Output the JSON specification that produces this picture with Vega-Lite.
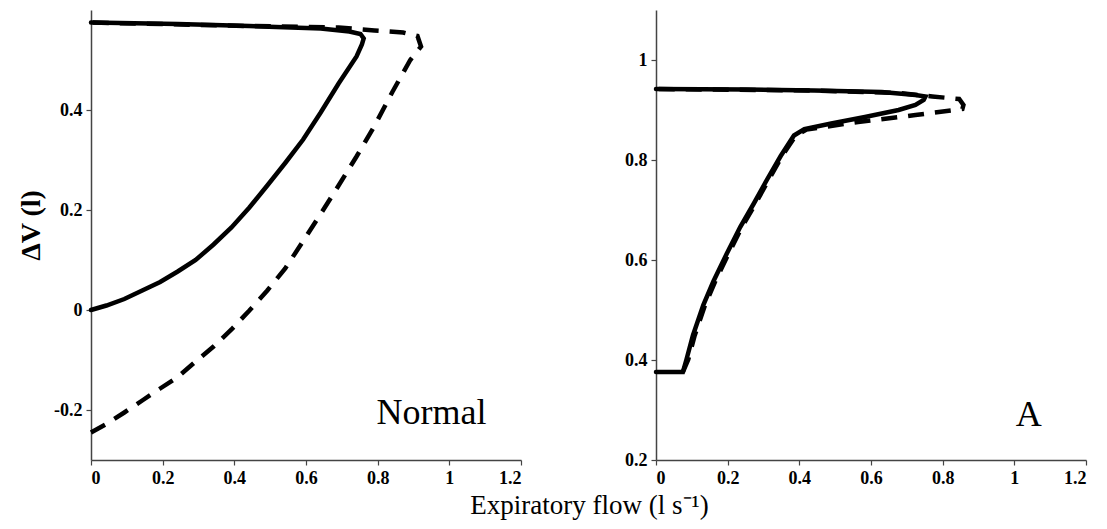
{
  "$schema": "https://vega.github.io/schema/vega-lite/v6.json",
  "padding": {"left": 17, "top": 10, "right": 5, "bottom": 5},
  "background": "white",
  "bounds": "flush",
  "spacing": 135,
  "config": {
    "view": {"stroke": null},
    "font": "Liberation Serif",
    "axis": {
      "grid": false,
      "domainColor": "#444",
      "domainWidth": 1.5,
      "tickColor": "#444",
      "tickSize": 5,
      "tickWidth": 1.2,
      "labelFont": "Liberation Serif",
      "labelFontSize": 18,
      "labelFontWeight": "bold",
      "labelColor": "black",
      "labelPadding": 4,
      "titleFont": "Liberation Serif",
      "titleColor": "black",
      "format": "~g",
      "labelExpr": "replace(datum.label, '\u2212', '-')"
    }
  },
  "datasets": {
    "normal": [
      {"series": "solid", "i": 0, "flow": 0, "dv": 0},
      {"series": "solid", "i": 1, "flow": 0.043, "dv": 0.009},
      {"series": "solid", "i": 2, "flow": 0.093, "dv": 0.022},
      {"series": "solid", "i": 3, "flow": 0.143, "dv": 0.039},
      {"series": "solid", "i": 4, "flow": 0.193, "dv": 0.056},
      {"series": "solid", "i": 5, "flow": 0.242, "dv": 0.077},
      {"series": "solid", "i": 6, "flow": 0.292, "dv": 0.1},
      {"series": "solid", "i": 7, "flow": 0.342, "dv": 0.131},
      {"series": "solid", "i": 8, "flow": 0.392, "dv": 0.165},
      {"series": "solid", "i": 9, "flow": 0.442, "dv": 0.205},
      {"series": "solid", "i": 10, "flow": 0.492, "dv": 0.249},
      {"series": "solid", "i": 11, "flow": 0.542, "dv": 0.294},
      {"series": "solid", "i": 12, "flow": 0.592, "dv": 0.341},
      {"series": "solid", "i": 13, "flow": 0.641, "dv": 0.395},
      {"series": "solid", "i": 14, "flow": 0.691, "dv": 0.453},
      {"series": "solid", "i": 15, "flow": 0.741, "dv": 0.507},
      {"series": "solid", "i": 16, "flow": 0.756, "dv": 0.531},
      {"series": "solid", "i": 17, "flow": 0.761, "dv": 0.543},
      {"series": "solid", "i": 18, "flow": 0.752, "dv": 0.552},
      {"series": "solid", "i": 19, "flow": 0.721, "dv": 0.557},
      {"series": "solid", "i": 20, "flow": 0.641, "dv": 0.563},
      {"series": "solid", "i": 21, "flow": 0.442, "dv": 0.568},
      {"series": "solid", "i": 22, "flow": 0.242, "dv": 0.572},
      {"series": "solid", "i": 23, "flow": 0, "dv": 0.575},
      {"series": "dashed", "i": 0, "flow": 0, "dv": -0.245},
      {"series": "dashed", "i": 1, "flow": 0.043, "dv": -0.228},
      {"series": "dashed", "i": 2, "flow": 0.093, "dv": -0.205},
      {"series": "dashed", "i": 3, "flow": 0.143, "dv": -0.181},
      {"series": "dashed", "i": 4, "flow": 0.193, "dv": -0.157},
      {"series": "dashed", "i": 5, "flow": 0.242, "dv": -0.134},
      {"series": "dashed", "i": 6, "flow": 0.292, "dv": -0.103},
      {"series": "dashed", "i": 7, "flow": 0.342, "dv": -0.073},
      {"series": "dashed", "i": 8, "flow": 0.392, "dv": -0.039},
      {"series": "dashed", "i": 9, "flow": 0.442, "dv": -0.001},
      {"series": "dashed", "i": 10, "flow": 0.492, "dv": 0.039},
      {"series": "dashed", "i": 11, "flow": 0.542, "dv": 0.083},
      {"series": "dashed", "i": 12, "flow": 0.592, "dv": 0.138},
      {"series": "dashed", "i": 13, "flow": 0.641, "dv": 0.192},
      {"series": "dashed", "i": 14, "flow": 0.691, "dv": 0.249},
      {"series": "dashed", "i": 15, "flow": 0.741, "dv": 0.307},
      {"series": "dashed", "i": 16, "flow": 0.791, "dv": 0.368},
      {"series": "dashed", "i": 17, "flow": 0.841, "dv": 0.436},
      {"series": "dashed", "i": 18, "flow": 0.891, "dv": 0.5},
      {"series": "dashed", "i": 19, "flow": 0.921, "dv": 0.527},
      {"series": "dashed", "i": 20, "flow": 0.911, "dv": 0.548},
      {"series": "dashed", "i": 21, "flow": 0.871, "dv": 0.555},
      {"series": "dashed", "i": 22, "flow": 0.791, "dv": 0.559},
      {"series": "dashed", "i": 23, "flow": 0.691, "dv": 0.565},
      {"series": "dashed", "i": 24, "flow": 0.442, "dv": 0.568},
      {"series": "dashed", "i": 25, "flow": 0, "dv": 0.575}
    ],
    "a": [
      {"series": "solid", "i": 0, "flow": 0, "dv": 0.376},
      {"series": "solid", "i": 1, "flow": 0.075, "dv": 0.376},
      {"series": "solid", "i": 2, "flow": 0.085, "dv": 0.401},
      {"series": "solid", "i": 3, "flow": 0.103, "dv": 0.449},
      {"series": "solid", "i": 4, "flow": 0.132, "dv": 0.51},
      {"series": "solid", "i": 5, "flow": 0.16, "dv": 0.557},
      {"series": "solid", "i": 6, "flow": 0.197, "dv": 0.612},
      {"series": "solid", "i": 7, "flow": 0.235, "dv": 0.666},
      {"series": "solid", "i": 8, "flow": 0.273, "dv": 0.713},
      {"series": "solid", "i": 9, "flow": 0.31, "dv": 0.761},
      {"series": "solid", "i": 10, "flow": 0.348, "dv": 0.808},
      {"series": "solid", "i": 11, "flow": 0.385, "dv": 0.849},
      {"series": "solid", "i": 12, "flow": 0.414, "dv": 0.862},
      {"series": "solid", "i": 13, "flow": 0.489, "dv": 0.873},
      {"series": "solid", "i": 14, "flow": 0.583, "dv": 0.886},
      {"series": "solid", "i": 15, "flow": 0.677, "dv": 0.9},
      {"series": "solid", "i": 16, "flow": 0.724, "dv": 0.91},
      {"series": "solid", "i": 17, "flow": 0.747, "dv": 0.92},
      {"series": "solid", "i": 18, "flow": 0.752, "dv": 0.927},
      {"series": "solid", "i": 19, "flow": 0.724, "dv": 0.93},
      {"series": "solid", "i": 20, "flow": 0.63, "dv": 0.936},
      {"series": "solid", "i": 21, "flow": 0.442, "dv": 0.939},
      {"series": "solid", "i": 22, "flow": 0.254, "dv": 0.941},
      {"series": "solid", "i": 23, "flow": 0, "dv": 0.942},
      {"series": "dashed", "i": 0, "flow": 0.075, "dv": 0.376},
      {"series": "dashed", "i": 1, "flow": 0.09, "dv": 0.401},
      {"series": "dashed", "i": 2, "flow": 0.108, "dv": 0.449},
      {"series": "dashed", "i": 3, "flow": 0.137, "dv": 0.51},
      {"series": "dashed", "i": 4, "flow": 0.165, "dv": 0.557},
      {"series": "dashed", "i": 5, "flow": 0.202, "dv": 0.612},
      {"series": "dashed", "i": 6, "flow": 0.24, "dv": 0.666},
      {"series": "dashed", "i": 7, "flow": 0.278, "dv": 0.713},
      {"series": "dashed", "i": 8, "flow": 0.315, "dv": 0.761},
      {"series": "dashed", "i": 9, "flow": 0.352, "dv": 0.808},
      {"series": "dashed", "i": 10, "flow": 0.39, "dv": 0.849},
      {"series": "dashed", "i": 11, "flow": 0.42, "dv": 0.861},
      {"series": "dashed", "i": 12, "flow": 0.564, "dv": 0.876},
      {"series": "dashed", "i": 13, "flow": 0.724, "dv": 0.89},
      {"series": "dashed", "i": 14, "flow": 0.855, "dv": 0.902},
      {"series": "dashed", "i": 15, "flow": 0.858, "dv": 0.91},
      {"series": "dashed", "i": 16, "flow": 0.846, "dv": 0.922},
      {"series": "dashed", "i": 17, "flow": 0.771, "dv": 0.927},
      {"series": "dashed", "i": 18, "flow": 0.677, "dv": 0.934},
      {"series": "dashed", "i": 19, "flow": 0.442, "dv": 0.939},
      {"series": "dashed", "i": 20, "flow": 0, "dv": 0.942}
    ]
  },
  "hconcat": [
    {
      "width": 430,
      "height": 450,
      "data": {"name": "normal"},
      "encoding": {
        "x": {
          "field": "flow", "type": "quantitative",
          "scale": {"domain": [0, 1.2], "nice": false},
          "axis": {
            "values": [0, 0.2, 0.4, 0.6, 0.8, 1, 1.2],
            "title": "Expiratory flow (l s⁻¹)",
            "titleFontSize": 27,
            "titleFontWeight": "normal",
            "titleX": 498,
            "titleY": 45,
            "titleBaseline": "middle",
            "titleAlign": "center"
          }
        },
        "y": {
          "field": "dv", "type": "quantitative",
          "scale": {"domain": [-0.3, 0.6], "nice": false, "zero": false},
          "axis": {
            "values": [-0.2, 0, 0.2, 0.4],
            "title": "ΔV (l)",
            "titleFontSize": 28,
            "titleFontWeight": "bold",
            "titleX": -60,
            "titleY": 215,
            "titleAngle": -90,
            "titleBaseline": "middle",
            "titleAlign": "center"
          }
        },
        "order": {"field": "i", "type": "quantitative"}
      },
      "layer": [
        {
          "transform": [{"filter": "datum.series === 'dashed'"}],
          "mark": {"type": "line", "color": "black", "strokeWidth": 4.5, "strokeDash": [16, 11], "strokeCap": "butt"}
        },
        {
          "transform": [{"filter": "datum.series === 'solid'"}],
          "mark": {"type": "line", "color": "black", "strokeWidth": 4.5, "strokeCap": "round"}
        },
        {
          "data": {"values": [{"label": "Normal", "flow": 0.95, "dv": -0.205}]},
          "mark": {"type": "text", "font": "Liberation Serif", "fontSize": 36, "color": "black", "align": "center", "baseline": "middle"},
          "encoding": {
            "x": {"field": "flow", "type": "quantitative"},
            "y": {"field": "dv", "type": "quantitative"},
            "text": {"field": "label"},
            "order": null
          }
        }
      ]
    },
    {
      "width": 430,
      "height": 450,
      "data": {"name": "a"},
      "encoding": {
        "x": {
          "field": "flow", "type": "quantitative",
          "scale": {"domain": [0, 1.2], "nice": false},
          "axis": {"values": [0, 0.2, 0.4, 0.6, 0.8, 1, 1.2], "title": null}
        },
        "y": {
          "field": "dv", "type": "quantitative",
          "scale": {"domain": [0.2, 1.1], "nice": false, "zero": false},
          "axis": {"values": [0.2, 0.4, 0.6, 0.8, 1], "title": null}
        },
        "order": {"field": "i", "type": "quantitative"}
      },
      "layer": [
        {
          "transform": [{"filter": "datum.series === 'dashed'"}],
          "mark": {"type": "line", "color": "black", "strokeWidth": 4.5, "strokeDash": [16, 11], "strokeCap": "butt"}
        },
        {
          "transform": [{"filter": "datum.series === 'solid'"}],
          "mark": {"type": "line", "color": "black", "strokeWidth": 4.5, "strokeCap": "round"}
        },
        {
          "data": {"values": [{"label": "A", "flow": 1.04, "dv": 0.29}]},
          "mark": {"type": "text", "font": "Liberation Serif", "fontSize": 36, "color": "black", "align": "center", "baseline": "middle"},
          "encoding": {
            "x": {"field": "flow", "type": "quantitative"},
            "y": {"field": "dv", "type": "quantitative"},
            "text": {"field": "label"},
            "order": null
          }
        }
      ]
    }
  ]
}
